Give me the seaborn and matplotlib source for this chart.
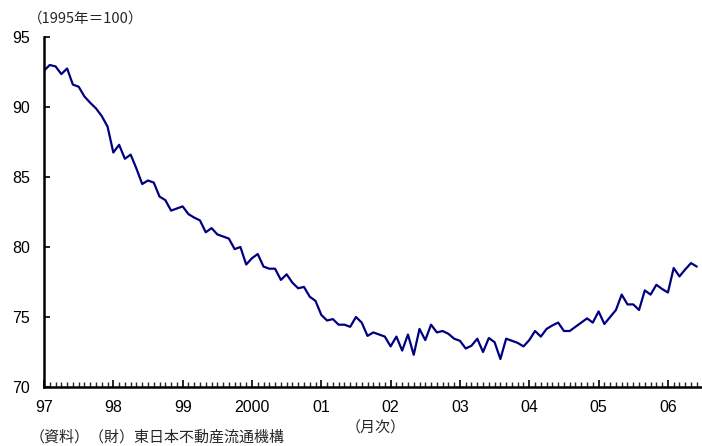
import matplotlib
matplotlib.use("Agg")
import matplotlib.pyplot as plt
import seaborn as sns
import pandas as pd
import numpy as np

years = ["97", "98", "99", "2000", "01", "02", "03", "04", "05", "06"]
v1997 = [92.6, 93.0, 92.9, 92.35, 92.75, 91.6, 91.45, 90.75, 90.3, 89.9, 89.35, 88.6]
v1998 = [86.75, 87.3, 86.3, 86.6, 85.6, 84.5, 84.75, 84.6, 83.6, 83.35, 82.6, 82.75]
v1999 = [82.9, 82.35, 82.1, 81.9, 81.05, 81.35, 80.9, 80.75, 80.6, 79.85, 80.0, 78.75]
v2000 = [79.2, 79.5, 78.6, 78.45, 78.45, 77.65, 78.05, 77.45, 77.05, 77.15, 76.45, 76.15]
v2001 = [75.15, 74.75, 74.85, 74.45, 74.45, 74.3, 75.0, 74.6, 73.65, 73.9, 73.75, 73.6]
v2002 = [72.9, 73.6, 72.6, 73.75, 72.3, 74.15, 73.35, 74.45, 73.9, 74.0, 73.8, 73.45]
v2003 = [73.3, 72.75, 72.95, 73.45, 72.5, 73.5, 73.2, 72.0, 73.45, 73.3, 73.15, 72.9]
v2004 = [73.35, 74.0, 73.6, 74.15, 74.4, 74.6, 74.0, 74.0, 74.3, 74.6, 74.9, 74.6]
v2005 = [75.4, 74.5, 75.0, 75.5, 76.6, 75.9, 75.9, 75.5, 76.9, 76.6, 77.3, 77.0]
v2006 = [76.75, 78.5, 77.9, 78.4, 78.85, 78.6]

values = v1997 + v1998 + v1999 + v2000 + v2001 + v2002 + v2003 + v2004 + v2005 + v2006
df = pd.DataFrame({"month": np.arange(len(values)), "value": values})

sns.set_theme(style="white")
plt.rcParams['font.family'] = ['Liberation Sans', 'Noto Sans CJK JP', 'DejaVu Sans']

fig = plt.figure(figsize=(7.02, 4.46), dpi=100)
ax = fig.add_axes([44/702, 1 - 387/446, 1 - 44/702, (387 - 37)/446])

sns.lineplot(data=df, x="month", y="value", ax=ax, color="#000080", linewidth=1.6)

ax.set_xlim(0, 113.9)
ax.set_ylim(70, 95)
ax.set_yticks([70, 75, 80, 85, 90, 95])
ax.set_yticklabels(["70", "75", "80", "85", "90", "95"], fontsize=11.5)
ax.set_xticks([12 * i for i in range(len(years))])
ax.set_xticklabels(years, fontsize=11.5)
ax.set_xticks(np.arange(0, 114), minor=True)
ax.tick_params(axis='x', which='major', direction='in', length=5, width=1.2, pad=9, colors='black')
ax.tick_params(axis='x', which='minor', direction='in', length=3.5, width=1.0)
ax.tick_params(axis='y', which='major', direction='in', length=4, width=1.2, pad=10, colors='black')
ax.tick_params(bottom=True, left=True, which='both')
ax.set_xlabel("")
ax.set_ylabel("")
for s in ["top", "right"]:
    ax.spines[s].set_visible(False)
for s in ["left", "bottom"]:
    ax.spines[s].set_color("black")
    ax.spines[s].set_linewidth(1.8)

cjk = ['Noto Sans CJK JP', 'DejaVu Sans']
fig.text(28/702, 1 - 19/446, "（1995年＝100）", fontsize=10.5, family=cjk, va='center', ha='left')
fig.text(376/702, 1 - 428/446, "（月次）", fontsize=10.8, family=cjk, va='center', ha='center')
fig.text(30/702, 1 - 437/446, "（資料）（財）東日本不動産流通機構", fontsize=10.8, family=cjk, va='center', ha='left')

fig.savefig("out.png", dpi=100)
